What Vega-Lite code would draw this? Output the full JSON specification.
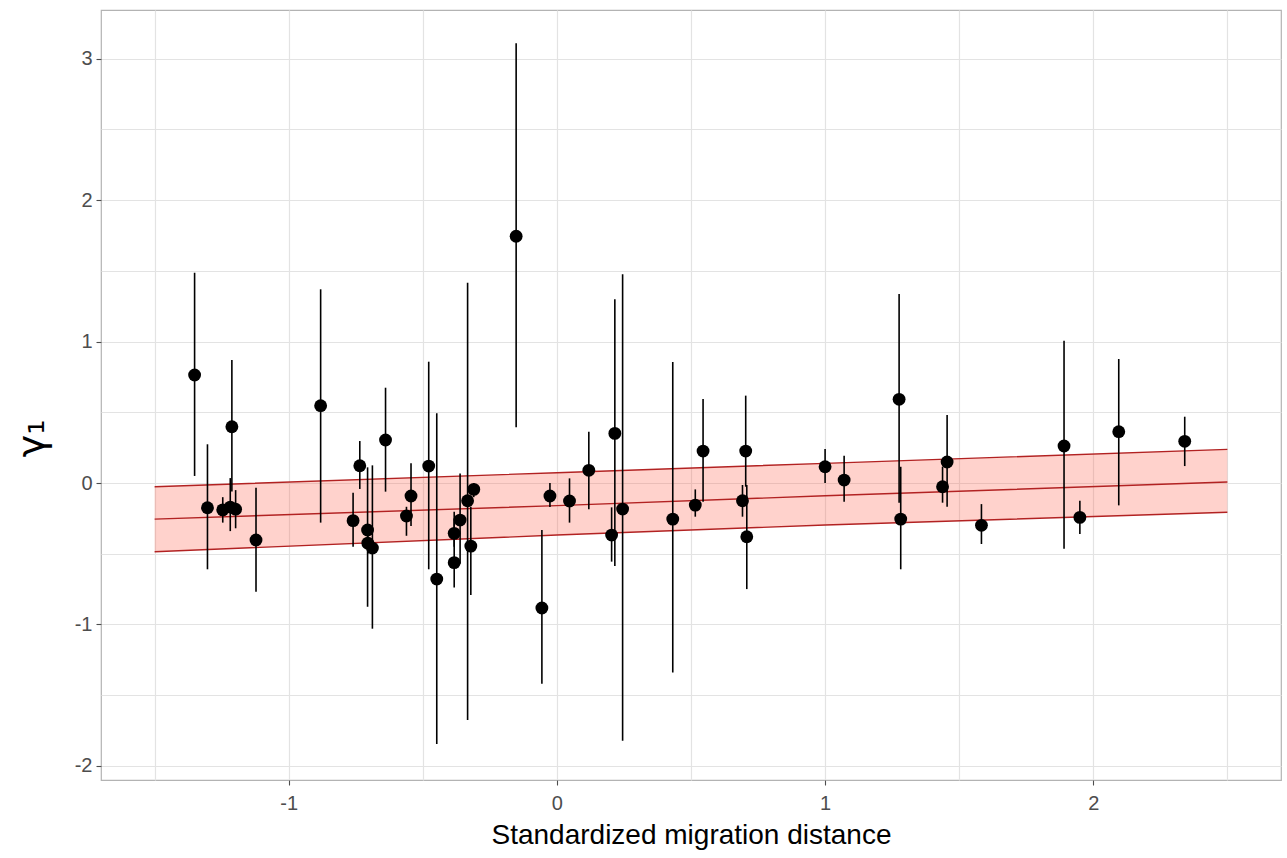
{
  "$schema": "https://vega.github.io/schema/vega-lite/v6.json",
  "width": 1180,
  "height": 770,
  "autosize": "none",
  "padding": {"left": 101, "top": 10, "right": 6, "bottom": 78},
  "background": "white",
  "config": {
    "view": {"stroke": "#b3b3b3", "strokeWidth": 1.2},
    "font": "Liberation Sans"
  },
  "datasets": {
    "ribbon": [
      {"x": -1.5, "lower": -0.486, "mean": -0.255, "upper": -0.026},
      {"x": 0, "lower": -0.368, "mean": -0.160, "upper": 0.073},
      {"x": 1, "lower": -0.297, "mean": -0.090, "upper": 0.139},
      {"x": 2.5, "lower": -0.207, "mean": 0.007, "upper": 0.238}
    ],
    "pts": [
      {"x": -1.351, "y": 0.764, "lo": 0.05, "hi": 1.487},
      {"x": -1.303, "y": -0.175, "lo": -0.61, "hi": 0.274},
      {"x": -1.246, "y": -0.19, "lo": -0.28, "hi": -0.10},
      {"x": -1.218, "y": -0.17, "lo": -0.34, "hi": 0.035},
      {"x": -1.198, "y": -0.185, "lo": -0.32, "hi": -0.05},
      {"x": -1.212, "y": 0.398, "lo": -0.06, "hi": 0.87},
      {"x": -1.122, "y": -0.403, "lo": -0.769, "hi": -0.033},
      {"x": -0.881, "y": 0.547, "lo": -0.28, "hi": 1.37},
      {"x": -0.760, "y": -0.266, "lo": -0.45, "hi": -0.068},
      {"x": -0.735, "y": 0.122, "lo": -0.042, "hi": 0.297},
      {"x": -0.706, "y": -0.332, "lo": -0.875, "hi": 0.111},
      {"x": -0.705, "y": -0.425, "lo": -0.5, "hi": -0.35},
      {"x": -0.688, "y": -0.46, "lo": -1.03, "hi": 0.125},
      {"x": -0.639, "y": 0.304, "lo": -0.061, "hi": 0.674},
      {"x": -0.561, "y": -0.233, "lo": -0.373, "hi": -0.168},
      {"x": -0.544, "y": -0.092, "lo": -0.304, "hi": 0.139},
      {"x": -0.478, "y": 0.12, "lo": -0.61, "hi": 0.858},
      {"x": -0.448, "y": -0.679, "lo": -1.846, "hi": 0.493},
      {"x": -0.383, "y": -0.563, "lo": -0.738, "hi": -0.203},
      {"x": -0.383, "y": -0.356, "lo": -0.45, "hi": -0.25},
      {"x": -0.361, "y": -0.262, "lo": -0.57, "hi": 0.068},
      {"x": -0.333, "y": -0.125, "lo": -1.676, "hi": 1.417},
      {"x": -0.310, "y": -0.045, "lo": -0.1, "hi": 0.0},
      {"x": -0.321, "y": -0.446, "lo": -0.792, "hi": -0.167},
      {"x": -0.152, "y": 1.745, "lo": 0.394, "hi": 3.11},
      {"x": -0.056, "y": -0.884, "lo": -1.42, "hi": -0.332},
      {"x": -0.026, "y": -0.092, "lo": -0.17, "hi": 0.0},
      {"x": 0.047, "y": -0.127, "lo": -0.28, "hi": 0.033},
      {"x": 0.119, "y": 0.09, "lo": -0.186, "hi": 0.363},
      {"x": 0.216, "y": 0.351, "lo": -0.587, "hi": 1.30},
      {"x": 0.204, "y": -0.368, "lo": -0.556, "hi": -0.172},
      {"x": 0.245, "y": -0.184, "lo": -1.822, "hi": 1.476},
      {"x": 0.432, "y": -0.255, "lo": -1.34, "hi": 0.856},
      {"x": 0.516, "y": -0.156, "lo": -0.238, "hi": -0.045},
      {"x": 0.545, "y": 0.226, "lo": -0.132, "hi": 0.594},
      {"x": 0.692, "y": -0.125, "lo": -0.238, "hi": -0.014},
      {"x": 0.704, "y": 0.226, "lo": -0.026, "hi": 0.618},
      {"x": 0.708, "y": -0.38, "lo": -0.75, "hi": -0.014},
      {"x": 1.0, "y": 0.115, "lo": 0.0, "hi": 0.24},
      {"x": 1.071, "y": 0.021, "lo": -0.132, "hi": 0.193},
      {"x": 1.276, "y": 0.592, "lo": -0.139, "hi": 1.337},
      {"x": 1.282, "y": -0.255, "lo": -0.61, "hi": 0.115},
      {"x": 1.438, "y": -0.026, "lo": -0.139, "hi": 0.115},
      {"x": 1.455, "y": 0.149, "lo": -0.167, "hi": 0.481},
      {"x": 1.583, "y": -0.299, "lo": -0.431, "hi": -0.149},
      {"x": 1.891, "y": 0.262, "lo": -0.464, "hi": 1.006},
      {"x": 1.950, "y": -0.243, "lo": -0.361, "hi": -0.125},
      {"x": 2.095, "y": 0.363, "lo": -0.158, "hi": 0.877},
      {"x": 2.341, "y": 0.295, "lo": 0.12, "hi": 0.469}
    ]
  },
  "layer": [
    {
      "data": {"name": "ribbon"},
      "mark": {"type": "area", "fill": "#ff4a33", "opacity": 0.25},
      "encoding": {
        "x": {"field": "x", "type": "quantitative",
              "scale": {"domain": [-1.7, 2.7], "nice": false, "zero": false},
              "axis": {"orient": "bottom", "values": [-1.5, -1, -0.5, 0, 0.5, 1, 1.5, 2, 2.5], "grid": true, "gridColor": "#e3e3e3", "gridWidth": 1.2, "labels": false, "ticks": false, "domain": false, "title": null}},
        "y": {"field": "lower", "type": "quantitative",
              "scale": {"domain": [-2.1, 3.345], "nice": false, "zero": false},
              "axis": {"orient": "left", "values": [-2, -1.5, -1, -0.5, 0, 0.5, 1, 1.5, 2, 2.5, 3], "grid": true, "gridColor": "#e3e3e3", "gridWidth": 1.2, "labels": false, "ticks": false, "domain": false, "title": null}},
        "y2": {"field": "upper"}
      }
    },
    {
      "data": {"name": "ribbon"},
      "transform": [{"fold": ["lower", "mean", "upper"], "as": ["band", "val"]}],
      "mark": {"type": "line", "color": "#b22222", "strokeWidth": 1.4},
      "encoding": {
        "x": {"field": "x", "type": "quantitative", "scale": {"domain": [-1.7, 2.7], "nice": false, "zero": false}, "axis": null},
        "y": {"field": "val", "type": "quantitative", "scale": {"domain": [-2.1, 3.345], "nice": false, "zero": false}, "axis": null},
        "detail": {"field": "band"}
      }
    },
    {
      "mark": {"type": "rule", "color": "#7a7a7a", "strokeDash": [6, 4], "strokeWidth": 1.2},
      "encoding": {"y": {"datum": 0, "type": "quantitative", "scale": {"domain": [-2.1, 3.345], "nice": false, "zero": false}, "axis": null}}
    },
    {
      "data": {"name": "pts"},
      "mark": {"type": "rule", "color": "black", "strokeWidth": 1.6},
      "encoding": {
        "x": {"field": "x", "type": "quantitative", "scale": {"domain": [-1.7, 2.7], "nice": false, "zero": false}, "axis": null},
        "y": {"field": "lo", "type": "quantitative", "scale": {"domain": [-2.1, 3.345], "nice": false, "zero": false}, "axis": null},
        "y2": {"field": "hi"}
      }
    },
    {
      "data": {"name": "pts"},
      "mark": {"type": "point", "shape": "circle", "filled": true, "color": "black", "opacity": 1, "size": 165},
      "encoding": {
        "x": {"field": "x", "type": "quantitative",
              "scale": {"domain": [-1.7, 2.7], "nice": false, "zero": false},
              "axis": {"orient": "bottom", "values": [-1, 0, 1, 2], "labelExpr": "datum.value + ''", "grid": false, "domain": false, "ticks": true, "tickColor": "#4d4d4d", "tickSize": 5, "tickWidth": 1.1, "labelFontSize": 20, "labelColor": "#4d4d4d", "labelPadding": 8, "labelFont": "Liberation Sans", "title": "Standardized migration distance", "titleFontSize": 28, "titleFontWeight": "normal", "titleColor": "black", "titlePadding": 8, "titleFont": "Liberation Sans"}},
        "y": {"field": "y", "type": "quantitative",
              "scale": {"domain": [-2.1, 3.345], "nice": false, "zero": false},
              "axis": {"orient": "left", "values": [-2, -1, 0, 1, 2, 3], "labelExpr": "datum.value + ''", "grid": false, "domain": false, "ticks": true, "tickColor": "#4d4d4d", "tickSize": 5, "tickWidth": 1.1, "labelFontSize": 20, "labelColor": "#4d4d4d", "labelPadding": 4, "labelFont": "Liberation Sans", "title": "γ₁", "titleFontSize": 38, "titleFontWeight": "normal", "titleColor": "black", "titleFont": "DejaVu Sans", "titleAngle": -90, "titleAlign": "center", "titleBaseline": "alphabetic", "titleX": -58, "titleY": 428}}
      }
    }
  ],
  "resolve": {"axis": {"x": "independent", "y": "independent"}}
}
